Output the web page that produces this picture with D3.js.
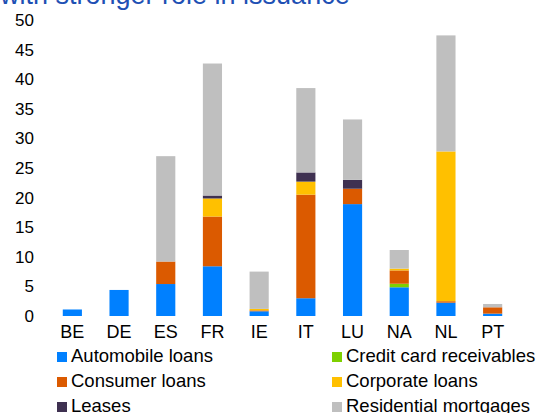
<!DOCTYPE html>
<html>
<head>
<meta charset="utf-8">
<script src="https://cdn.jsdelivr.net/npm/d3@7"></script>
<style>
  html, body { margin: 0; padding: 0; background: #fff; }
  svg { display: block; font-family: "Liberation Sans", Arial, sans-serif; }
</style>
</head>
<body>
<svg id="chart" width="537" height="413"></svg>
<script>
const categories = ["BE", "DE", "ES", "FR", "IE", "IT", "LU", "NA", "NL", "PT"];
const seriesNames = ["Automobile loans", "Credit card receivables", "Consumer loans", "Corporate loans", "Leases", "Residential mortgages"];
const seriesColors = ["#0080FF", "#7ED000", "#DB5A00", "#FFC000", "#3F3151", "#BFBFBF"];
const automobile  = [1.1, 4.4, 5.4, 8.4, 0.8, 3.0, 18.9, 4.85, 2.25, 0.4];
const creditCard  = [0, 0, 0, 0, 0, 0, 0, 0.6, 0, 0];
const consumer    = [0, 0, 3.8, 8.4, 0.15, 17.5, 2.6, 2.25, 0.25, 1.07];
const corporate   = [0, 0, 0, 3.05, 0.25, 2.2, 0, 0.3, 25.3, 0];
const leases      = [0, 0, 0, 0.5, 0, 1.55, 1.5, 0, 0, 0];
const residential = [0, 0, 17.8, 22.3, 6.3, 14.25, 10.2, 3.15, 19.6, 0.56];
const yTicks = [0, 5, 10, 15, 20, 25, 30, 35, 40, 45, 50];
const titleText = "with stronger role in issuance";

const seriesValues = [automobile, creditCard, consumer, corporate, leases, residential];
const keys = seriesNames;
const rows = categories.map((c, i) => {
  const r = { cat: c };
  keys.forEach((k, j) => r[k] = seriesValues[j][i]);
  return r;
});
const stacked = d3.stack().keys(keys)(rows);

const svg = d3.select("#chart");
const x = d3.scaleBand().domain(categories).range([49, 516]).paddingInner(0.59).paddingOuter(0.295);
const y = d3.scaleLinear().domain([0, 50]).range([316, 20]);
const color = d3.scaleOrdinal().domain(keys).range(seriesColors);

// title (partly cut off at top)
svg.append("text").attr("x", 0).attr("y", 4)
  .attr("font-size", 27).attr("fill", "#1E50B4").text(titleText);

// y axis
const yAxis = svg.append("g").attr("transform", "translate(34,0)")
  .call(d3.axisLeft(y).tickValues(yTicks).tickSize(0).tickPadding(0));
yAxis.select(".domain").remove();
yAxis.selectAll("text").attr("font-size", 17).attr("fill", "#000")
  .attr("font-family", "Liberation Sans, Arial, sans-serif");

// x axis
const xAxis = svg.append("g").attr("transform", "translate(0,316)")
  .call(d3.axisBottom(x).tickSize(0).tickPadding(9));
xAxis.select(".domain").remove();
xAxis.selectAll("text").attr("font-size", 18).attr("fill", "#000")
  .attr("font-family", "Liberation Sans, Arial, sans-serif");

// bars
svg.append("g").selectAll("g").data(stacked).join("g")
  .attr("fill", d => color(d.key))
  .selectAll("rect").data(d => d).join("rect")
  .attr("x", d => x(d.data.cat))
  .attr("width", x.bandwidth())
  .attr("y", d => y(d[1]))
  .attr("height", d => Math.max(0, y(d[0]) - y(d[1])));

// legend
const legend = svg.append("g");
seriesNames.forEach((name, i) => {
  const col = i % 2, row = Math.floor(i / 2);
  const gx = col === 0 ? 57 : 332;
  const gy = 362 + row * 25;
  legend.append("rect").attr("x", gx).attr("y", gy - 10).attr("width", 10).attr("height", 10)
    .attr("fill", seriesColors[i]);
  legend.append("text").attr("x", gx + 14).attr("y", gy)
    .attr("font-size", 18.5).attr("fill", "#000").text(name);
});
</script>
</body>
</html>
